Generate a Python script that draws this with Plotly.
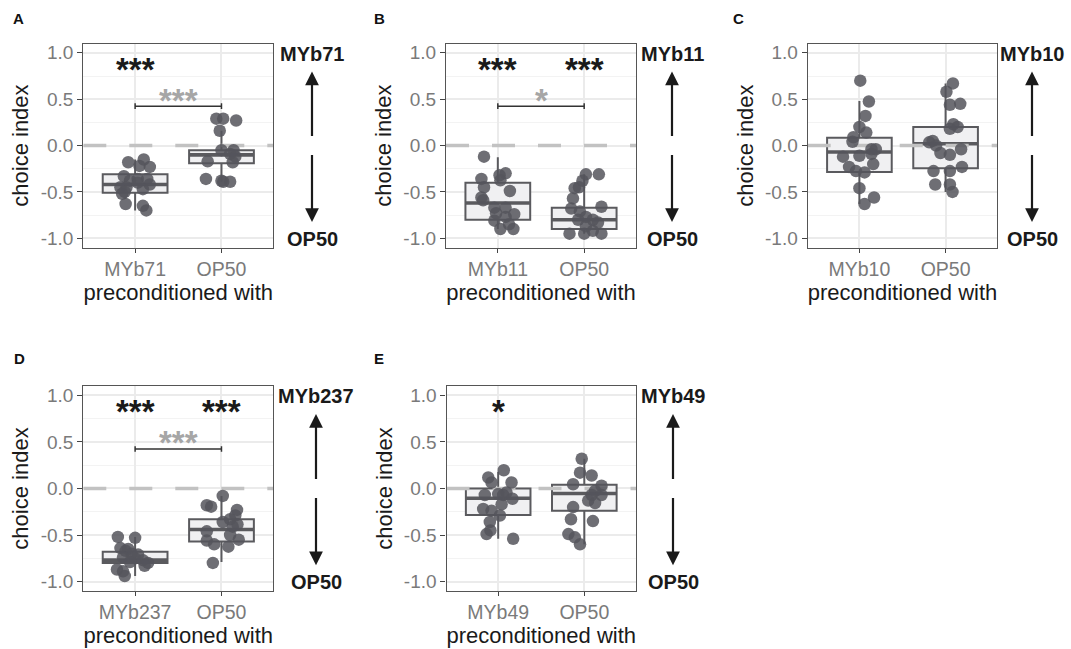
import plotly.graph_objects as go

W, H = 1071, 649

# ---------------- data ----------------
letters = ["A", "B", "C", "D", "E"]
strains = ["MYb71", "MYb11", "MYb10", "MYb237", "MYb49"]

A_strain_vals = [-0.18, -0.15, -0.23, -0.22, -0.33, -0.36, -0.36, -0.38, -0.42, -0.45, -0.45, -0.47, -0.52, -0.63, -0.65, -0.70, -0.40, -0.50]
A_strain_jit = [-0.08, 0.10, 0.17, 0.05, -0.13, 0.03, 0.14, -0.06, 0.17, -0.17, -0.10, 0.09, -0.15, -0.11, 0.09, 0.13, 0.03, -0.12]
A_op50_vals = [0.29, 0.29, 0.27, 0.16, -0.05, -0.05, -0.09, -0.12, -0.17, -0.18, -0.36, -0.38, -0.39, -0.39]
A_op50_jit = [-0.06, 0.02, 0.17, -0.02, 0.0, 0.14, 0.10, 0.16, -0.16, 0.13, -0.18, 0.0, 0.10, 0.02]

B_strain_vals = [-0.12, -0.30, -0.32, -0.36, -0.375, -0.45, -0.49, -0.56, -0.67, -0.67, -0.73, -0.74, -0.77, -0.81, -0.85, -0.90, -0.90, -0.59]
B_strain_jit = [-0.16, 0.09, 0.02, -0.19, 0.03, -0.16, 0.14, -0.19, -0.04, 0.09, -0.02, 0.19, 0.09, -0.04, 0.13, 0.03, 0.18, -0.17]
B_op50_vals = [-0.31, -0.31, -0.38, -0.45, -0.46, -0.57, -0.68, -0.66, -0.71, -0.80, -0.80, -0.83, -0.87, -0.95, -0.95, -0.92, -0.95, -0.77]
B_op50_jit = [0.02, 0.17, -0.02, -0.06, -0.11, -0.13, -0.15, 0.20, -0.05, -0.07, 0.10, 0.16, 0.02, -0.17, 0.0, 0.10, 0.20, 0.02]

C_strain_vals = [0.70, 0.475, 0.32, 0.20, 0.14, 0.09, 0.04, -0.04, -0.04, -0.12, -0.11, -0.09, -0.20, -0.23, -0.275, -0.29, -0.46, -0.56, -0.63]
C_strain_jit = [0.01, 0.11, 0.07, 0.0, 0.08, -0.07, -0.08, 0.14, 0.19, -0.19, 0.0, 0.14, 0.16, -0.12, -0.04, 0.06, 0.0, 0.17, 0.06]
C_op50_vals = [0.67, 0.58, 0.44, 0.45, 0.23, 0.20, 0.18, 0.05, 0.035, 0.0, -0.08, -0.10, -0.04, -0.23, -0.275, -0.275, -0.42, -0.42, -0.50]
C_op50_jit = [0.085, 0.01, 0.05, 0.17, 0.09, 0.14, 0.05, -0.15, -0.19, -0.11, -0.06, 0.05, 0.18, 0.19, -0.14, 0.05, -0.12, 0.05, 0.08]

D_strain_vals = [-0.52, -0.53, -0.64, -0.65, -0.67, -0.70, -0.71, -0.74, -0.75, -0.77, -0.80, -0.83, -0.87, -0.94, -0.79, -0.89]
D_strain_jit = [-0.20, 0.0, -0.17, -0.08, -0.11, -0.04, 0.035, -0.14, 0.0, 0.09, 0.15, 0.11, -0.21, -0.12, -0.06, -0.14]
D_op50_vals = [-0.08, -0.18, -0.195, -0.23, -0.29, -0.33, -0.36, -0.385, -0.41, -0.46, -0.50, -0.56, -0.60, -0.55, -0.625, -0.80]
D_op50_jit = [0.015, -0.17, -0.12, 0.18, 0.16, 0.10, 0.015, 0.185, 0.13, -0.17, 0.10, -0.17, -0.085, 0.2, 0.08, -0.10]

E_strain_vals = [0.196, 0.118, 0.064, 0.064, -0.07, -0.043, -0.07, -0.11, -0.17, -0.22, -0.24, -0.36, -0.29, -0.45, -0.49, -0.54, -0.06]
E_strain_jit = [0.065, -0.115, -0.077, 0.155, -0.155, 0.096, 0.058, 0.166, 0.04, -0.174, -0.077, -0.097, 0.02, -0.09, -0.135, 0.174, 0.0]
E_op50_vals = [0.32, 0.17, 0.14, 0.046, 0.03, -0.025, -0.07, -0.07, -0.13, -0.157, -0.20, -0.33, -0.35, -0.49, -0.525, -0.60]
E_op50_jit = [-0.03, -0.05, 0.085, -0.13, 0.2, 0.125, 0.085, 0.2, 0.045, 0.125, -0.13, -0.155, 0.10, -0.185, -0.11, -0.05]

# box stats per group: [q1, median, q3, lower whisker, upper whisker]
A_strain_box = [-0.51, -0.42, -0.31, -0.70, -0.15]
A_op50_box = [-0.19, -0.10, -0.05, -0.39, 0.16]
B_strain_box = [-0.80, -0.62, -0.40, -0.90, -0.125]
B_op50_box = [-0.90, -0.80, -0.67, -0.95, -0.31]
C_strain_box = [-0.285, -0.07, 0.085, -0.63, 0.48]
C_op50_box = [-0.245, 0.02, 0.20, -0.50, 0.67]
D_strain_box = [-0.80, -0.77, -0.68, -0.94, -0.52]
D_op50_box = [-0.57, -0.44, -0.33, -0.79, -0.08]
E_strain_box = [-0.285, -0.105, 0.0, -0.54, 0.18]
E_op50_box = [-0.24, -0.054, 0.04, -0.60, 0.32]

# significance labels: vs. zero for strain, vs. zero for OP50, between groups
sig_strain = ["***", "***", "", "***", "*"]
sig_op50 = ["", "***", "", "***", ""]
sig_between = ["***", "*", "", "***", ""]

strain_vals = [A_strain_vals, B_strain_vals, C_strain_vals, D_strain_vals, E_strain_vals]
strain_jit = [A_strain_jit, B_strain_jit, C_strain_jit, D_strain_jit, E_strain_jit]
op50_vals = [A_op50_vals, B_op50_vals, C_op50_vals, D_op50_vals, E_op50_vals]
op50_jit = [A_op50_jit, B_op50_jit, C_op50_jit, D_op50_jit, E_op50_jit]
strain_box = [A_strain_box, B_strain_box, C_strain_box, D_strain_box, E_strain_box]
op50_box = [A_op50_box, B_op50_box, C_op50_box, D_op50_box, E_op50_box]

# ---------------- layout geometry (pixels) ----------------
panel_px = [  # left, right, top, bottom
    (83.3, 273.3, 42.7, 247.3),
    (446.0, 636.0, 42.7, 247.3),
    (807.7, 997.3, 42.7, 247.3),
    (83.3, 273.3, 386.3, 591.7),
    (446.5, 636.0, 386.3, 591.7),
]
arrow_px = [312, 672, 1032, 316, 673]
letter_px = [(18, 18), (379, 18), (738, 18), (19, 359), (379, 359)]

XR = [0.4, 2.6]
YR = [-1.1, 1.1]
BOXW = 0.75
STAR_LEVEL = 0.87
BRACKET_LEVEL = 0.425
BRACKET_TIP = 0.03
BETWEEN_LEVEL = 0.535

FONT = "Liberation Sans, Arial, Helvetica, sans-serif"
PT_COLOR = "rgba(85,85,92,0.85)"
BOX_LINE = "#5a5a5e"
BOX_FILL = "#f0f0f2"

fig = go.Figure()
layout = dict(
    width=W, height=H, margin=dict(l=0, r=0, t=0, b=0),
    paper_bgcolor="white", plot_bgcolor="white", showlegend=False,
    font=dict(family=FONT),
)
annotations = []

STAR_SIZE = 33
star_offset = 0.045  # glyph centre sits above text-box middle

for i in range(5):
    xa = "x" if i == 0 else f"x{i+1}"
    ya = "y" if i == 0 else f"y{i+1}"
    xk = "xaxis" if i == 0 else f"xaxis{i+1}"
    yk = "yaxis" if i == 0 else f"yaxis{i+1}"
    l, r, t, b = panel_px[i]

    layout[xk] = dict(
        domain=[l / W, r / W], range=XR, anchor=ya,
        tickvals=[1, 2], ticktext=[strains[i], "OP50"],
        tickfont=dict(size=19.5, color="#7a7a7a"),
        ticks="outside", ticklen=4, tickwidth=1.2, tickcolor="#444",
        showgrid=True, gridcolor="#ebebeb", gridwidth=1.5, zeroline=False,
        showline=True, linecolor="#555", linewidth=1.2, mirror=True,
        title=dict(text="preconditioned with", font=dict(size=22, color="#1a1a1a"), standoff=1),
        fixedrange=True,
    )
    layout[yk] = dict(
        domain=[1 - b / H, 1 - t / H], range=YR, anchor=xa,
        tickvals=[-1, -0.5, 0, 0.5, 1], ticktext=["-1.0", "-0.5", "0.0", "0.5", "1.0"],
        tickfont=dict(size=19, color="#7a7a7a"),
        ticks="outside", ticklen=5, tickwidth=1.2, tickcolor="#444",
        showgrid=True, gridcolor="#ebebeb", gridwidth=1.5, zeroline=False,
        minor=dict(tickvals=[-0.75, -0.25, 0.25, 0.75], showgrid=True, gridcolor="#f3f3f3", gridwidth=0.9, ticks=""),
        showline=True, linecolor="#555", linewidth=1.2, mirror=True,
        title=dict(text="choice index", font=dict(size=22, color="#1a1a1a"), standoff=5),
        fixedrange=True,
    )

    # boxes
    for pos, st in ((1, strain_box[i]), (2, op50_box[i])):
        fig.add_trace(go.Box(
            x=[pos], q1=[st[0]], median=[st[1]], q3=[st[2]],
            lowerfence=[st[3]], upperfence=[st[4]],
            width=BOXW, whiskerwidth=0, boxpoints=False,
            fillcolor=BOX_FILL, line=dict(color=BOX_LINE, width=2),
            xaxis=xa, yaxis=ya, hoverinfo="skip",
        ))
        # thicker median (ggplot fatten)
        fig.add_trace(go.Scatter(
            x=[pos - BOXW / 2, pos + BOXW / 2], y=[st[1], st[1]], mode="lines",
            line=dict(color=BOX_LINE, width=3.6), xaxis=xa, yaxis=ya, hoverinfo="skip",
        ))

    # zero reference line
    fig.add_trace(go.Scatter(
        x=XR, y=[0, 0], mode="lines",
        line=dict(color="#c2c2c2", width=3.5, dash="23px,23px"),
        xaxis=xa, yaxis=ya, hoverinfo="skip",
    ))

    # bracket for between-group comparison
    if sig_between[i]:
        fig.add_trace(go.Scatter(
            x=[1, 1, 1, 2, 2, 2],
            y=[BRACKET_LEVEL - BRACKET_TIP, BRACKET_LEVEL + BRACKET_TIP, BRACKET_LEVEL,
               BRACKET_LEVEL, BRACKET_LEVEL + BRACKET_TIP, BRACKET_LEVEL - BRACKET_TIP],
            mode="lines", line=dict(color="#333", width=1.5),
            xaxis=xa, yaxis=ya, hoverinfo="skip",
        ))
        annotations.append(dict(
            x=1.5, y=BETWEEN_LEVEL - star_offset, xref=xa, yref=ya, text=f"<b>{sig_between[i]}</b>",
            showarrow=False, font=dict(size=STAR_SIZE, color="#a6a6a6", family=FONT),
            xanchor="center", yanchor="middle",
        ))

    # jittered points
    fig.add_trace(go.Scatter(
        x=[1 + j for j in strain_jit[i]] + [2 + j for j in op50_jit[i]],
        y=strain_vals[i] + op50_vals[i],
        mode="markers", marker=dict(size=12.5, color=PT_COLOR, line=dict(width=0)),
        xaxis=xa, yaxis=ya, hoverinfo="skip",
    ))

    # significance vs zero
    for pos, s in ((1, sig_strain[i]), (2, sig_op50[i])):
        if s:
            annotations.append(dict(
                x=pos, y=STAR_LEVEL - star_offset, xref=xa, yref=ya, text=f"<b>{s}</b>",
                showarrow=False, font=dict(size=STAR_SIZE, color="#1a1a1a", family=FONT),
                xanchor="center", yanchor="middle",
            ))

    # right-hand direction labels and arrows
    ax_x = arrow_px[i] / W
    annotations.append(dict(x=ax_x, y=0.99, xref="paper", yref=ya, text=f"<b>{strains[i]}</b>",
                            showarrow=False, font=dict(size=20, color="#1a1a1a", family=FONT),
                            xanchor="center", yanchor="middle"))
    annotations.append(dict(x=ax_x, y=-1.01, xref="paper", yref=ya, text="<b>OP50</b>",
                            showarrow=False, font=dict(size=20, color="#1a1a1a", family=FONT),
                            xanchor="center", yanchor="middle"))
    annotations.append(dict(x=ax_x, y=0.80, xref="paper", yref=ya, text="",
                            showarrow=True, axref="pixel", ax=0, ayref=ya, ay=0.086,
                            arrowhead=2, arrowsize=1.25, arrowwidth=2.2, arrowcolor="#1a1a1a",
                            standoff=0, startstandoff=0))
    annotations.append(dict(x=ax_x, y=-0.825, xref="paper", yref=ya, text="",
                            showarrow=True, axref="pixel", ax=0, ayref=ya, ay=-0.086,
                            arrowhead=2, arrowsize=1.25, arrowwidth=2.2, arrowcolor="#1a1a1a",
                            standoff=0, startstandoff=0))

    # panel letter
    lx, ly = letter_px[i]
    annotations.append(dict(x=lx / W, y=1 - ly / H, xref="paper", yref="paper", text=f"<b>{letters[i]}</b>",
                            showarrow=False, font=dict(size=15, color="#111", family=FONT),
                            xanchor="center", yanchor="middle"))

layout["annotations"] = annotations
fig.update_layout(**layout)
fig.write_html("out.html", config={"displayModeBar": False},
               post_script="document.body.style.margin='0';document.body.style.overflow='hidden';")
